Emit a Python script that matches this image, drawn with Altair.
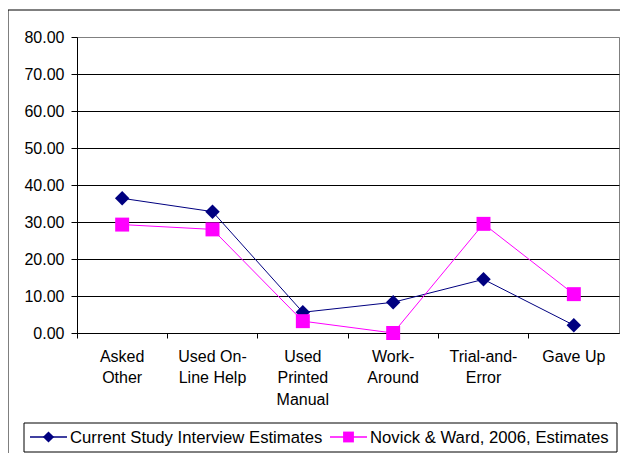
import json
import altair as alt
import pandas as pd

categories = ["Asked Other", "Used On-Line Help", "Used Printed Manual",
              "Work-Around", "Trial-and-Error", "Gave Up"]
label_lines = [["Asked", "Other"], ["Used On-", "Line Help"], ["Used", "Printed", "Manual"],
               ["Work-", "Around"], ["Trial-and-", "Error"], ["Gave Up"]]
series_names = ["Current Study Interview Estimates", "Novick & Ward, 2006, Estimates"]
current = [36.4, 32.8, 5.6, 8.3, 14.5, 2.1]
novick = [29.3, 28.0, 3.2, 0.0, 29.5, 10.5]
y_ticks = [0, 10, 20, 30, 40, 50, 60, 70, 80]

colors = ["#000080", "#FF00FF"]
shapes = ["diamond", "square"]
marker_sizes = [210, 195]

rows = []
for s, vals in zip(series_names, [current, novick]):
    for c, v in zip(categories, vals):
        rows.append({"category": c, "series": s, "value": v})
df = pd.DataFrame(rows)

FONT = "Liberation Sans"
label_expr = "%s[indexof(%s, datum.value)]" % (json.dumps(label_lines), json.dumps(categories))

x_enc = alt.X("category:N", sort=categories, title=None,
              scale=alt.Scale(type="band", paddingInner=0, paddingOuter=0),
              axis=alt.Axis(labelExpr=label_expr, labelAngle=0, bandPosition=0,
                            tickSize=5, labelPadding=10, labelLineHeight=21.5,
                            labelFontSize=16, labelFont=FONT, labelColor="black",
                            domainColor="black", tickColor="black", grid=False))
y_enc = alt.Y("value:Q", title=None,
              scale=alt.Scale(domain=[0, 80], nice=False),
              axis=alt.Axis(values=y_ticks, format=".2f", tickSize=6, labelPadding=7,
                            labelFontSize=16, labelFont=FONT, labelColor="black",
                            domainColor="black", tickColor="black",
                            gridColor={"condition": {"test": "datum.value >= 80", "value": "#808080"},
                                       "value": "black"},
                            gridOpacity=1))

base = alt.Chart(df)

lines = base.mark_line(strokeWidth=1).encode(
    x=x_enc, y=y_enc,
    stroke=alt.Stroke("series:N", scale=alt.Scale(domain=series_names, range=colors), legend=None),
    detail="series:N",
)

point_layers = []
for name, col, shp, sz in zip(series_names, colors, shapes, marker_sizes):
    point_layers.append(
        base.transform_filter(alt.datum.series == name).mark_point(
            shape=shp, filled=True, color=col, size=sz, opacity=1, strokeWidth=0
        ).encode(x=x_enc, y=y_enc)
    )

# Outer chart frame (only top and left edges fall inside the picture)
frame = alt.Chart(pd.DataFrame({"a": [0]})).mark_rect(
    fill="transparent", stroke="black", strokeWidth=1, clip=False
).encode(x=alt.value(-69), x2=alt.value(545), y=alt.value(-27), y2=alt.value(419))

# Legend (drawn as a boxed key below the plot)
LEG_Y = 400
legend_box = alt.Chart(pd.DataFrame({"a": [0]})).mark_rect(
    fill="white", stroke="black", strokeWidth=1, clip=False
).encode(x=alt.value(-53), x2=alt.value(540), y=alt.value(LEG_Y - 14), y2=alt.value(LEG_Y + 15))

legend_starts = [-47, 253]
legend_layers = [legend_box]
for name, col, shp, sz, x0 in zip(series_names, colors, shapes, marker_sizes, legend_starts):
    d = alt.Chart(pd.DataFrame({"series": [name]}))
    legend_layers.append(d.mark_rule(color=col, strokeWidth=1.5, clip=False).encode(
        x=alt.value(x0), x2=alt.value(x0 + 37), y=alt.value(LEG_Y)))
    legend_layers.append(d.mark_point(shape=shp, filled=True, color=col, opacity=1,
                                      size=sz * 0.6, strokeWidth=0, clip=False).encode(
        x=alt.value(x0 + 18.5), y=alt.value(LEG_Y)))
    legend_layers.append(d.mark_text(align="left", baseline="middle", font=FONT,
                                     fontSize=16.7, color="black", clip=False).encode(
        x=alt.value(x0 + 40), y=alt.value(LEG_Y + 1), text="series:N"))

chart = alt.layer(frame, lines, *point_layers, *legend_layers).properties(
    width=542, height=296,
    autosize=alt.AutoSizeParams(type="none"),
    padding={"left": 69, "top": 29, "right": 1, "bottom": 120},
    background="white",
).configure_view(stroke="#808080", strokeWidth=1)

chart.save("out.html", embed_options={"renderer": "svg", "actions": False})
